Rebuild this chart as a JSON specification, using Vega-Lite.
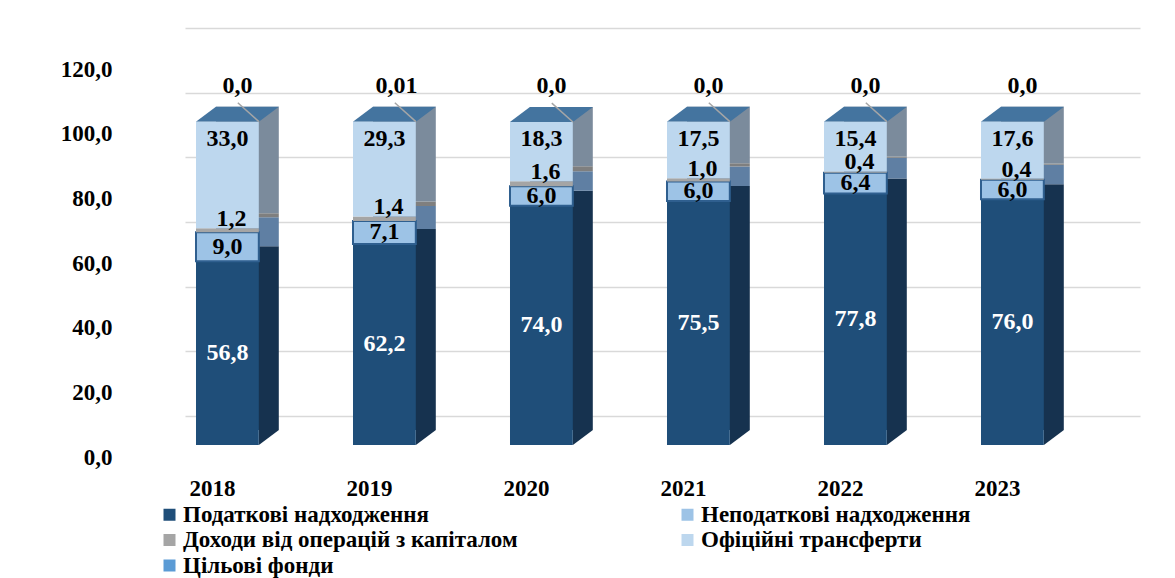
{
  "$schema": "https://vega.github.io/schema/vega-lite/v6.json",
  "width": 955,
  "height": 388,
  "autosize": {"type": "none"},
  "padding": {"left": 185, "top": 57, "right": 35, "bottom": 133},
  "background": "white",
  "config": {
    "locale": {"number": {"decimal": ",", "thousands": " ", "grouping": [3], "currency": ["", ""]}},
    "view": {"stroke": null},
    "font": "Liberation Serif",
    "text": {"font": "Liberation Serif", "fontWeight": "bold", "fontSize": 24}
  },
  "data": {
    "values": [
      {"year": "2018", "series": "Податкові надходження", "value": 56.8, "s": 1},
      {"year": "2018", "series": "Неподаткові надходження", "value": 9.0, "s": 2},
      {"year": "2018", "series": "Доходи від операцій з капіталом", "value": 1.2, "s": 3},
      {"year": "2018", "series": "Офіційні трансферти", "value": 33.0, "s": 4},
      {"year": "2018", "series": "Цільові фонди", "value": 0.0, "s": 5},
      {"year": "2019", "series": "Податкові надходження", "value": 62.2, "s": 1},
      {"year": "2019", "series": "Неподаткові надходження", "value": 7.1, "s": 2},
      {"year": "2019", "series": "Доходи від операцій з капіталом", "value": 1.4, "s": 3},
      {"year": "2019", "series": "Офіційні трансферти", "value": 29.3, "s": 4},
      {"year": "2019", "series": "Цільові фонди", "value": 0.01, "s": 5},
      {"year": "2020", "series": "Податкові надходження", "value": 74.0, "s": 1},
      {"year": "2020", "series": "Неподаткові надходження", "value": 6.0, "s": 2},
      {"year": "2020", "series": "Доходи від операцій з капіталом", "value": 1.6, "s": 3},
      {"year": "2020", "series": "Офіційні трансферти", "value": 18.3, "s": 4},
      {"year": "2020", "series": "Цільові фонди", "value": 0.0, "s": 5},
      {"year": "2021", "series": "Податкові надходження", "value": 75.5, "s": 1},
      {"year": "2021", "series": "Неподаткові надходження", "value": 6.0, "s": 2},
      {"year": "2021", "series": "Доходи від операцій з капіталом", "value": 1.0, "s": 3},
      {"year": "2021", "series": "Офіційні трансферти", "value": 17.5, "s": 4},
      {"year": "2021", "series": "Цільові фонди", "value": 0.0, "s": 5},
      {"year": "2022", "series": "Податкові надходження", "value": 77.8, "s": 1},
      {"year": "2022", "series": "Неподаткові надходження", "value": 6.4, "s": 2},
      {"year": "2022", "series": "Доходи від операцій з капіталом", "value": 0.4, "s": 3},
      {"year": "2022", "series": "Офіційні трансферти", "value": 15.4, "s": 4},
      {"year": "2022", "series": "Цільові фонди", "value": 0.0, "s": 5},
      {"year": "2023", "series": "Податкові надходження", "value": 76.0, "s": 1},
      {"year": "2023", "series": "Неподаткові надходження", "value": 6.0, "s": 2},
      {"year": "2023", "series": "Доходи від операцій з капіталом", "value": 0.4, "s": 3},
      {"year": "2023", "series": "Офіційні трансферти", "value": 17.6, "s": 4},
      {"year": "2023", "series": "Цільові фонди", "value": 0.0, "s": 5}
    ]
  },
  "encoding": {
    "x": {
      "field": "year", "type": "nominal",
      "scale": {"paddingInner": 0.6, "paddingOuter": 0.3414, "align": 0.1026},
      "axis": {
        "title": null, "labelAngle": 0, "ticks": false, "domain": false,
        "labelFont": "Liberation Serif", "labelFontWeight": "bold", "labelFontSize": 23,
        "labelColor": "black", "labelPadding": 32, "labelOffset": -15
      }
    },
    "y": {
      "field": "value", "type": "quantitative", "stack": "zero",
      "scale": {"domain": [0, 120], "nice": false},
      "axis": {
        "title": null, "values": [0, 20, 40, 60, 80, 100, 120], "format": ".1f",
        "ticks": false, "domain": false,
        "labelFont": "Liberation Serif", "labelFontWeight": "bold", "labelFontSize": 23,
        "labelColor": "black", "labelPadding": 73,
        "tickOffset": -29, "labelOffset": 41,
        "grid": true, "gridColor": "#d9d9d9", "gridWidth": 1.5
      }
    },
    "order": {"field": "s", "type": "quantitative"}
  },
  "layer": [
    {
      "mark": {"type": "bar", "xOffset": 20, "yOffset": -15, "y2Offset": -15},
      "encoding": {
        "fill": {
          "field": "s", "type": "ordinal", "legend": null,
          "scale": {
            "domain": [1, 2, 3, 4, 5],
            "range": ["#16324f", "#5f7fa3", "#7f7f7f", "#7b8b9c", "#41719c"]
          }
        }
      }
    },
    {
      "mark": {"type": "point", "shape": "M -1 0 L 1 0 L 1.635 -0.476 L -0.365 -0.476 Z", "size": 3969, "filled": true, "color": "#44749f", "strokeWidth": 0},
      "encoding": {
        "opacity": {"condition": {"test": "datum.series === 'Цільові фонди'", "value": 1}, "value": 0}
      }
    },
    {
      "transform": [{"filter": "datum.series === 'Податкові надходження'"}],
      "mark": {"type": "point", "shape": "M 1 0 L 1.635 -0.476 L 1 -0.476 Z", "size": 3969, "filled": true, "color": "#16324f", "strokeWidth": 0, "opacity": 1},
      "encoding": {
        "y": {"datum": 0, "type": "quantitative"}
      }
    },
    {
      "mark": {"type": "bar", "strokeWidth": 2},
      "encoding": {
        "color": {
          "field": "series", "type": "nominal",
          "scale": {
            "domain": ["Податкові надходження", "Неподаткові надходження", "Доходи від операцій з капіталом", "Офіційні трансферти", "Цільові фонди"],
            "range": ["#1f4e79", "#9dc3e6", "#a5a5a5", "#bdd7ee", "#5b9bd5"]
          },
          "legend": {
            "title": null, "orient": "none", "legendX": -27, "legendY": 446,
            "direction": "horizontal",
            "columns": 2, "columnPadding": 158, "rowPadding": 1.5,
            "symbolType": "square", "symbolSize": 144, "symbolStrokeWidth": 0,
            "labelFont": "Liberation Serif", "labelFontWeight": "bold", "labelFontSize": 23,
            "labelColor": "black", "labelOffset": 2, "labelLimit": 600,
            "encode": {
              "symbols": {
                "update": {
                  "stroke": {"signal": "datum.value === 'Неподаткові надходження' ? '#2f5f8f' : 'transparent'"},
                  "strokeWidth": {"value": 2}
                }
              }
            }
          }
        },
        "stroke": {"condition": {"test": "datum.series === 'Неподаткові надходження'", "value": "#2f5f8f"}, "value": "transparent"}
      }
    },
    {
      "mark": {"type": "text", "baseline": "middle"},
      "encoding": {
        "y": {"field": "value", "type": "quantitative", "stack": "zero", "bandPosition": 0.5},
        "text": {"condition": {"test": "datum.series === 'Податкові надходження' || datum.series === 'Неподаткові надходження'", "field": "value", "type": "quantitative", "format": ".1f"}, "value": ""},
        "fill": {"condition": {"test": "datum.series === 'Податкові надходження'", "value": "white"}, "value": "black"}
      }
    },
    {
      "mark": {"type": "text", "baseline": "bottom", "dx": 4, "dy": 3, "color": "black"},
      "encoding": {
        "text": {"condition": {"test": "datum.series === 'Доходи від операцій з капіталом'", "field": "value", "type": "quantitative", "format": ".1f"}, "value": ""}
      }
    },
    {
      "mark": {"type": "text", "baseline": "top", "dy": 5, "color": "black"},
      "encoding": {
        "text": {"condition": {"test": "datum.series === 'Офіційні трансферти'", "field": "value", "type": "quantitative", "format": ".1f"}, "value": ""}
      }
    },
    {
      "mark": {"type": "text", "baseline": "bottom", "dx": 10, "dy": -24, "color": "black"},
      "encoding": {
        "text": {"condition": {"test": "datum.series === 'Цільові фонди' && datum.value === 0", "field": "value", "type": "quantitative", "format": ".1f"}, "value": ""}
      }
    },
    {
      "mark": {"type": "text", "baseline": "bottom", "dx": 12, "dy": -24, "color": "black"},
      "encoding": {
        "text": {"condition": {"test": "datum.series === 'Цільові фонди' && datum.value > 0", "field": "value", "type": "quantitative", "format": ".2f"}, "value": ""}
      }
    },
    {
      "mark": {"type": "point", "shape": "M 0.33 -0.6 L 1 0", "size": 3969, "filled": false, "color": "#a6a6a6", "strokeWidth": 1.5},
      "encoding": {
        "opacity": {"condition": {"test": "datum.series === 'Цільові фонди' && datum.year !== '2023'", "value": 1}, "value": 0}
      }
    }
  ]
}
